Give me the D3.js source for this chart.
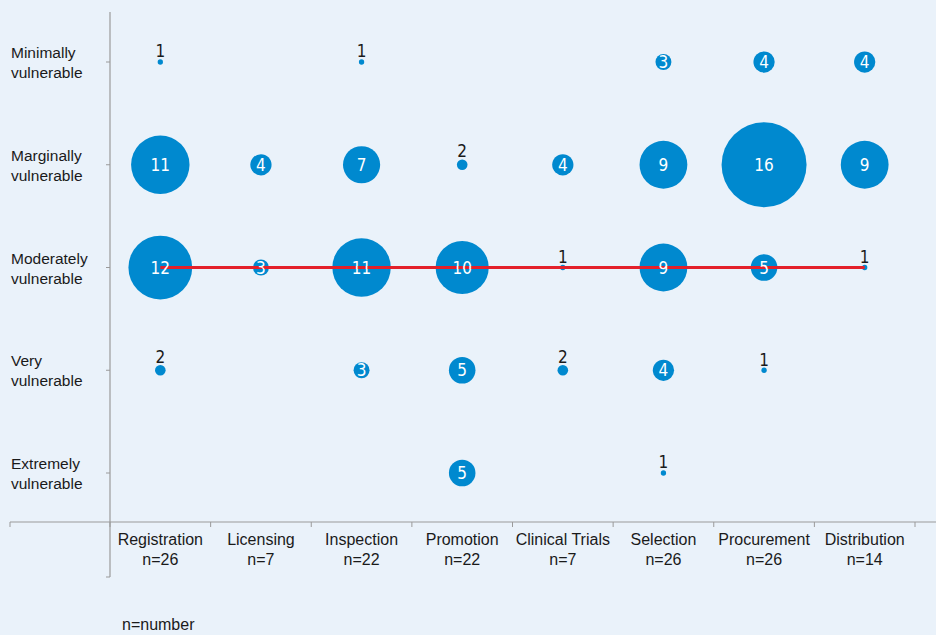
<!DOCTYPE html>
<html><head><meta charset="utf-8">
<script src="https://cdn.jsdelivr.net/npm/d3@7"></script>
<style>
html,body{margin:0;padding:0;background:#EAF2FA;}
text{font-family:"Liberation Sans Narrow","Liberation Sans",Arial,sans-serif;}
</style></head>
<body>
<svg id="chart" width="936" height="635"></svg>
<script>
const categories = ["Registration","Licensing","Inspection","Promotion","Clinical Trials","Selection","Procurement","Distribution"];
const categoryN = [26,7,22,22,7,26,26,14];
const levels = [["Minimally","vulnerable"],["Marginally","vulnerable"],["Moderately","vulnerable"],["Very","vulnerable"],["Extremely","vulnerable"]];
const minimally  = [1,null,1,null,null,3,4,4];
const marginally = [11,4,7,2,4,9,16,9];
const moderately = [12,3,11,10,1,9,5,1];
const very       = [2,null,3,5,2,4,1,null];
const extremely  = [null,null,null,5,null,1,null,null];
const seriesRows = [minimally, marginally, moderately, very, extremely];
const medianLevel = 2; // red line at "Moderately vulnerable"

const svg = d3.select("#chart");
svg.append("rect").attr("width",936).attr("height",635).attr("fill","#EAF2FA");

const x = d3.scaleBand().domain(categories).range([110, 915]);
const y = d3.scalePoint().domain(d3.range(levels.length)).range([62, 473]);
const r = d3.scaleLinear().domain([0,16]).range([0,42.5]);

const axisColor = "#9a9a9a";
// y axis
svg.append("line").attr("x1",110).attr("x2",110).attr("y1",12).attr("y2",577).attr("stroke",axisColor).attr("stroke-width",1.2);
svg.append("line").attr("x1",106).attr("x2",110).attr("y1",577).attr("y2",577).attr("stroke",axisColor);
levels.forEach((lv,i)=>{
  svg.append("line").attr("x1",106).attr("x2",110).attr("y1",y(i)).attr("y2",y(i)).attr("stroke",axisColor);
  const t = svg.append("text").attr("x",11).attr("y",y(i)-4).attr("font-size",15.5).attr("fill","#1a1a1a");
  t.append("tspan").attr("x",11).attr("dy",0).text(lv[0]);
  t.append("tspan").attr("x",11).attr("y",y(i)+16).text(lv[1]);
});
// x axis
svg.append("line").attr("x1",10).attr("x2",936).attr("y1",522).attr("y2",522).attr("stroke",axisColor).attr("stroke-width",1.2);
const boundaries = [10].concat(categories.map(c=>x(c))).concat([x(categories[categories.length-1])+x.bandwidth()]);
boundaries.forEach(b=>{
  svg.append("line").attr("x1",b).attr("x2",b).attr("y1",522).attr("y2",527).attr("stroke",axisColor);
});
categories.forEach((c,i)=>{
  const cx = x(c)+x.bandwidth()/2;
  svg.append("text").attr("x",cx).attr("y",545).attr("text-anchor","middle").attr("font-size",16).attr("fill","#1a1a1a").text(c);
  svg.append("text").attr("x",cx).attr("y",565).attr("text-anchor","middle").attr("font-size",16).attr("fill","#1a1a1a").text("n="+categoryN[i]);
});
svg.append("text").attr("x",122).attr("y",630).attr("font-size",16).attr("fill","#1a1a1a").text("n=number");

// bubbles
const pts = [];
seriesRows.forEach((row,li)=>row.forEach((v,ci)=>{ if(v!=null) pts.push({li,ci,v}); }));
const blue = "#0089CF";
svg.selectAll("circle.b").data(pts).join("circle").attr("class","b")
  .attr("cx",d=>x(categories[d.ci])+x.bandwidth()/2)
  .attr("cy",d=>y(d.li))
  .attr("r",d=>r(d.v))
  .attr("fill",blue);

// red line
const medRow = seriesRows[medianLevel];
svg.append("line")
  .attr("x1",x(categories[0])+x.bandwidth()/2)
  .attr("x2",x(categories[categories.length-1])+x.bandwidth()/2)
  .attr("y1",y(medianLevel)).attr("y2",y(medianLevel))
  .attr("stroke","#E3202A").attr("stroke-width",3);

// labels
svg.selectAll("text.v").data(pts).join("text").attr("class","v")
  .attr("x",d=>x(categories[d.ci])+x.bandwidth()/2)
  .attr("y",d=> d.v>=3 ? y(d.li)+6 : y(d.li)-r(d.v)-2)
  .attr("text-anchor","middle")
  .attr("font-size",d=> d.v>=3 ? 17 : 17)
  .attr("fill",d=> d.v>=3 ? "#ffffff" : "#1a1a1a")
  .style("font-family","'DejaVu Sans Condensed','Liberation Sans Narrow',sans-serif")
  .style("font-weight","300")
  .text(d=>d.v);
</script>
</body></html>
